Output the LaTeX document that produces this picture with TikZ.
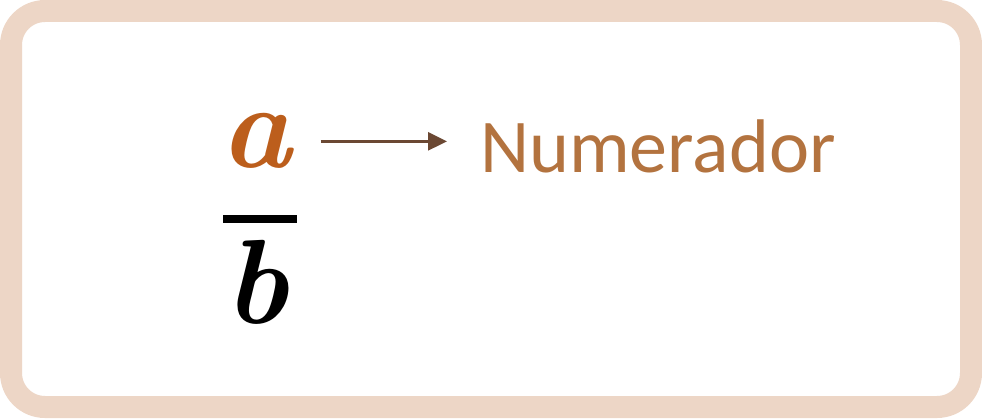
\documentclass[tikz,border=0pt]{standalone}
\usepackage{fontspec}
\usetikzlibrary{arrows.meta}
\newfontfamily\labelfont{Carlito}
\definecolor{framebeige}{HTML}{EDD6C6}
\definecolor{numorange}{HTML}{BC5E1C}
\definecolor{labelorange}{HTML}{B3733F}
\definecolor{arrowbrown}{HTML}{6B4833}
\tikzset{
    letter/.style={anchor=base, inner sep=0pt, font=\fontsize{120}{120}\selectfont\bfseries\itshape},
    arr/.style={arrowbrown, line width=2.6pt, -{Triangle[length=19pt,width=18pt]}}
}
\begin{document}
\begin{tikzpicture}[x=1pt,y=1pt]
    % Frame
    \useasboundingbox (0,0) rectangle (982,418);
    \draw[framebeige, line width=22pt, rounded corners=34pt, fill=white] (11,11) rectangle (971,407);

    % Fraction a/b
    \node[letter, text=numorange] (num) at (256,250) {a};
    \node[letter] (den) at (256,95) {b};
    \draw[line width=8pt] (223,199) -- (297,199);

    % Label
    \node[anchor=base west, inner sep=0pt, text=labelorange, font=\labelfont\fontsize{76}{76}\selectfont] (lbl) at (480,245) {Numerador};
    \draw[arr, shorten <=29pt, shorten >=33pt] (num.east) -- (num.east -| lbl.west);
\end{tikzpicture}
\end{document}
